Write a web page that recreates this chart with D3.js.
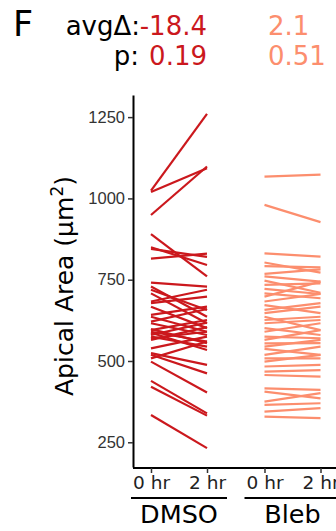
<!DOCTYPE html>
<html>
<head>
<meta charset="utf-8">
<script src="https://cdn.jsdelivr.net/npm/d3@7"></script>
<style>
  body { margin: 0; background: #fff; }
</style>
</head>
<body>
<div id="chart"></div>
<script>
// facets and timepoints
const groups = ["DMSO", "Bleb"];
const times = ["0 hr", "2 hr"];
const avgDelta = ["-18.4", "2.1"];
const pValues = ["0.19", "0.51"];
const yTicks = [250, 500, 750, 1000, 1250];

// apical area per cell, um^2
const dmsoBefore = [1024, 1020, 949, 890, 850, 845, 815, 741, 729, 719, 708, 683, 678, 667, 642, 636,
    621, 595, 590, 575, 565, 539, 598, 587, 580, 524, 519, 508, 498, 439, 421, 334, 616, 570];
const dmsoAfter = [1260, 1093, 1098, 760, 795, 820, 830, 729, 636, 657, 616, 719, 698, 601, 667, 590,
    660, 626, 560, 544, 604, 575, 555, 534, 618, 488, 462, 560, 403, 339, 332, 232, 580, 590];
const blebBefore = [1067, 980, 831, 803, 792, 768, 760, 747, 734, 722, 708, 698, 683, 672, 657, 647,
    636, 626, 616, 601, 590, 575, 565, 554, 544, 537, 519, 508, 498, 483, 467, 457, 416, 406, 375, 365, 344, 329];
const blebAfter = [1073, 927, 821, 772, 788, 782, 744, 710, 739, 706, 693, 744, 706, 647, 678, 667,
    595, 636, 626, 580, 616, 570, 595, 555, 565, 519, 544, 508, 519, 488, 472, 452, 411, 385, 401, 370, 355, 324];

const colors = {DMSO: "#CB181D", Bleb: "#FC8E6E"};
const pairs = {
    DMSO: dmsoBefore.map((d, i) => [d, dmsoAfter[i]]),
    Bleb: blebBefore.map((d, i) => [d, blebAfter[i]])
};

const width = 336, height = 531;
const font = "DejaVu Sans, sans-serif";
const svg = d3.select("#chart").append("svg")
    .attr("width", width)
    .attr("height", height)
    .style("font-family", font);

// scales
const y = d3.scaleLinear().domain([174, 1318]).range([467, 95]);
const facet = d3.scaleBand().domain(groups).range([131, 340.5]).paddingInner(0.1542);
const x = d3.scalePoint().domain(times).range([0, facet.bandwidth()]).padding(0.357);

// header
svg.append("text").attr("x", 13).attr("y", 36)
    .style("font-size", "35px").text("F");
svg.append("text").attr("x", 140).attr("y", 35)
    .style("font-size", "26px").attr("text-anchor", "end").text("avgΔ:");
svg.append("text").attr("x", 139).attr("y", 65)
    .style("font-size", "26px").attr("text-anchor", "end").text("p:");
const colX = [207, 268];
const colAnchor = ["end", "start"];
groups.forEach((g, i) => {
    svg.append("text").attr("x", colX[i]).attr("y", 35)
        .style("font-size", "26px").attr("text-anchor", colAnchor[i])
        .attr("fill", colors[g]).text(avgDelta[i]);
    svg.append("text").attr("x", colX[i]).attr("y", 65)
        .style("font-size", "26px").attr("text-anchor", colAnchor[i])
        .attr("fill", colors[g]).text(pValues[i]);
});

// y axis
const yAxis = svg.append("g")
    .attr("transform", "translate(133,0)")
    .call(d3.axisLeft(y).tickValues(yTicks).tickFormat(d3.format("d"))
        .tickSize(5).tickSizeOuter(0).tickPadding(3));
yAxis.select(".domain").attr("stroke", "#000").attr("stroke-width", 2);
yAxis.selectAll(".tick line").attr("stroke", "#333").attr("stroke-width", 1.5);
yAxis.selectAll(".tick text")
    .style("font-family", "'Liberation Sans', Arial, sans-serif")
    .style("font-size", "16.5px").attr("fill", "#333");

svg.append("text")
    .attr("transform", "translate(73,286) rotate(-90)")
    .attr("text-anchor", "middle")
    .style("font-size", "25px")
    .call(t => {
        t.append("tspan").text("Apical Area (µm");
        t.append("tspan").style("font-size", "17px").attr("dy", -10).text("2");
        t.append("tspan").attr("dy", 10).text(")");
    });

// x axis line across panels
svg.append("line")
    .attr("x1", 133).attr("x2", width)
    .attr("y1", 468).attr("y2", 468)
    .attr("stroke", "#000").attr("stroke-width", 2);

// panels
groups.forEach(g => {
    const panel = svg.append("g")
        .attr("transform", `translate(${facet(g)},0)`);

    panel.selectAll("line.pair")
        .data(pairs[g])
        .join("line")
        .attr("class", "pair")
        .attr("x1", x(times[0]))
        .attr("x2", x(times[1]))
        .attr("y1", d => y(d[0]))
        .attr("y2", d => y(d[1]))
        .attr("stroke", colors[g])
        .attr("stroke-width", 2.2);

    const xAxis = panel.append("g")
        .attr("transform", "translate(0,468)")
        .call(d3.axisBottom(x).tickSize(5).tickSizeOuter(0).tickPadding(3));
    xAxis.select(".domain").remove();
    xAxis.selectAll(".tick line").attr("stroke", "#333").attr("stroke-width", 1.5);
    xAxis.selectAll(".tick text")
        .style("font-family", font)
        .style("font-size", "18.5px").attr("fill", "#222");

    // strip
    panel.append("line")
        .attr("x1", 0).attr("x2", facet.bandwidth())
        .attr("y1", 498).attr("y2", 498)
        .attr("stroke", "#000").attr("stroke-width", 2);
    panel.append("text")
        .attr("x", facet.bandwidth() / 2).attr("y", 523)
        .attr("text-anchor", "middle")
        .style("font-size", "25.5px")
        .text(g);
});
</script>
</body>
</html>
